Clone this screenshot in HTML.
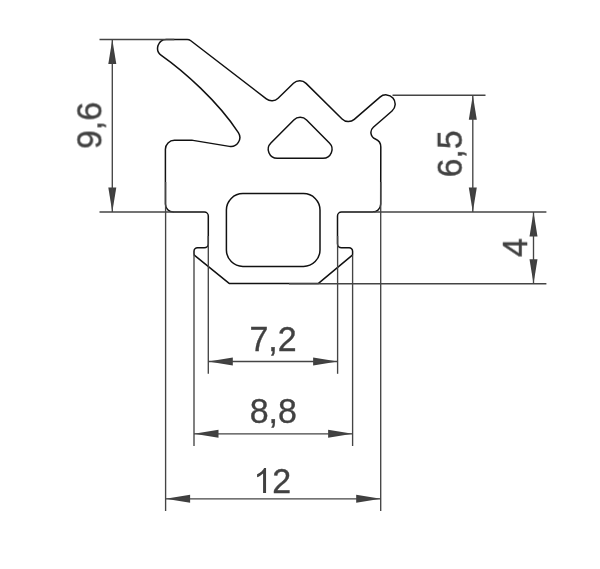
<!DOCTYPE html>
<html><head><meta charset="utf-8"><title>Profile drawing</title>
<style>
html,body{margin:0;padding:0;background:#fff;}
body{width:600px;height:569px;overflow:hidden;}
svg{display:block;}
text{font-family:"Liberation Sans",sans-serif;font-size:34px;fill:#3f3f3f;stroke:#3f3f3f;stroke-width:0.35px;}
</style></head><body>
<svg width="600" height="569" viewBox="0 0 600 569">
<rect width="600" height="569" fill="#fff"/>
<g fill="#3f3f3f" stroke="none">
<polygon points="112.3,39.5 116.30,64.00 108.30,64.00"/>
<polygon points="112.3,212 108.30,187.50 116.30,187.50"/>
<polygon points="472.8,95.2 476.80,119.70 468.80,119.70"/>
<polygon points="472.8,212 468.80,187.50 476.80,187.50"/>
<polygon points="533.5,212 537.50,236.50 529.50,236.50"/>
<polygon points="533.5,283.7 529.50,259.20 537.50,259.20"/>
<polygon points="208.3,361.5 232.80,357.50 232.80,365.50"/>
<polygon points="337.6,361.5 313.10,365.50 313.10,357.50"/>
<polygon points="194,433.8 218.50,429.80 218.50,437.80"/>
<polygon points="352.6,433.8 328.10,437.80 328.10,429.80"/>
<polygon points="165.6,498.8 190.10,494.80 190.10,502.80"/>
<polygon points="380.7,498.8 356.20,502.80 356.20,494.80"/>
</g>
<g fill="none" stroke="#111" stroke-width="1.5" stroke-linejoin="round" stroke-linecap="round">
<path d="M166.30,39.50 L187.16,39.50 A6,6 0 0 1 190.82,40.74 L266.34,98.86 A9,9 0 0 0 278.09,98.20 L293.48,83.31 A9,9 0 0 1 306.06,83.38 L342.08,118.95 A9,9 0 0 0 354.29,119.35 L379.97,97.10 A9.15,9.15 0 0 1 392.89,98.04 L392.94,98.10 A9.15,9.15 0 0 1 392.02,110.98 L373.33,127.22 A7,7 0 0 0 375.35,139.01 L375.36,139.01 A8.6,8.6 0 0 1 380.79,147.02 L380.71,204.01 A8,8 0 0 1 372.71,212.00 L341.50,212.00 A4,4 0 0 0 337.50,216.00 L337.50,243.80 A4,4 0 0 0 341.50,247.80 L349.10,247.80 A3.5,3.5 0 0 1 352.60,251.30 L352.60,254.30 A1.5,1.5 0 0 1 352.06,255.45 L318.47,283.36 A0.6,0.6 0 0 1 318.08,283.50 L229.51,283.50 A0.6,0.6 0 0 1 229.14,283.37 L194.56,255.45 A1.5,1.5 0 0 1 194.00,254.28 L194.00,251.30 A3.5,3.5 0 0 1 197.50,247.80 L204.30,247.80 A4,4 0 0 0 208.30,243.80 L208.30,216.00 A4,4 0 0 0 204.30,212.00 L173.40,212.00 A8,8 0 0 1 165.40,204.00 L165.40,149.30 A9,9 0 0 1 174.40,140.30 L192.01,140.30 A6,6 0 0 1 192.99,140.38 L229.33,146.38  A9,9 0 0 0 238.35,132.6 C218.0,101.3 183.6,71.0 161.3,55.3 A8.7,8.7 0 0 1 166.3,39.5 Z"/>
<path d="M293.81,119.92 A9,9 0 0 1 306.58,119.94 L329.40,142.96 A9,9 0 0 1 323.01,158.30 L277.26,158.30 A9,9 0 0 1 270.88,142.95 Z"/>
<rect x="226.4" y="193.6" width="93.6" height="72.8" rx="16.5" ry="16.5"/>
</g>
<g stroke="#444" stroke-width="1.35" fill="none">
<line x1="99.5" y1="39.5" x2="174.3" y2="39.5"/>
<line x1="99.5" y1="212" x2="174" y2="212"/>
<line x1="112.3" y1="39.5" x2="112.3" y2="212"/>
<line x1="392.5" y1="95.2" x2="485.5" y2="95.2"/>
<line x1="373.5" y1="212" x2="546.4" y2="212"/>
<line x1="289" y1="283.7" x2="546.4" y2="283.7"/>
<line x1="472.8" y1="95.2" x2="472.8" y2="212"/>
<line x1="533.5" y1="212" x2="533.5" y2="283.7"/>
<line x1="165.6" y1="182" x2="165.6" y2="511"/>
<line x1="380.7" y1="182" x2="380.7" y2="511"/>
<line x1="194" y1="255" x2="194" y2="446"/>
<line x1="352.6" y1="255" x2="352.6" y2="446"/>
<line x1="208.3" y1="236" x2="208.3" y2="373.8"/>
<line x1="337.6" y1="236" x2="337.6" y2="373.8"/>
<line x1="208.3" y1="361.5" x2="337.6" y2="361.5"/>
<line x1="194" y1="433.8" x2="352.6" y2="433.8"/>
<line x1="165.6" y1="498.8" x2="380.7" y2="498.8"/>
</g>
<g opacity="0.99">
<text transform="translate(273.0,350.7) scale(1,1.04)" text-anchor="middle">7,2</text>
<text transform="translate(273.3,422.8) scale(1,1.04)" text-anchor="middle">8,8</text>
<path transform="translate(253.39,492.9) scale(0.016602,-0.01685)" d="M763 0H583V1147Q518 1085 412.5 1023T223 930V1104Q374 1175 487 1276T647 1472H763Z" fill="#3f3f3f"/>
<text transform="translate(272.3,492.9) scale(1,1.04)">2</text>
<text transform="translate(101.6,125.5) rotate(-90) scale(1,1.04)" text-anchor="middle">9,6</text>
<text transform="translate(462.0,153.9) rotate(-90) scale(1,1.04)" text-anchor="middle">6,5</text>
<text transform="translate(527.3,247.6) rotate(-90) scale(1,1.04)" text-anchor="middle">4</text>
</g>
</svg>
</body></html>
